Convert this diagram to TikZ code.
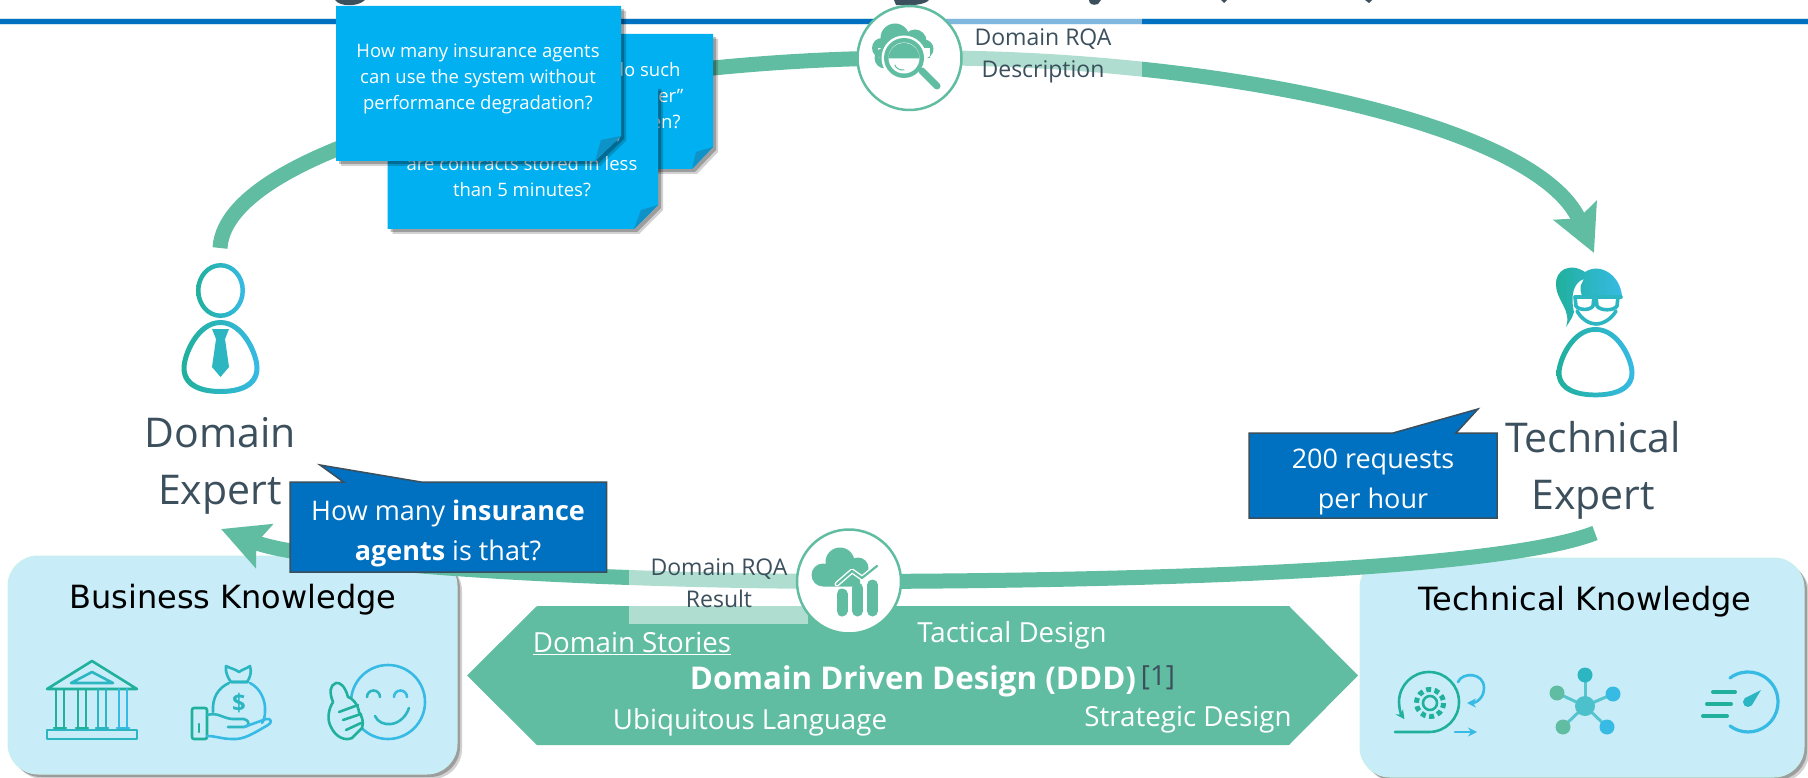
\documentclass[tikz,border=0pt]{standalone}
\usepackage{fontspec}
\setmainfont{Open Sans}
\newfontfamily\knowfont{DejaVu Sans}
\usetikzlibrary{arrows.meta,shadows}
\definecolor{flowgreen}{HTML}{60BDA1}
\definecolor{labelgray}{HTML}{3B4F5C}
\definecolor{ruleblue}{HTML}{0070C0}
\definecolor{ruleedge}{HTML}{CFE6F3}
\definecolor{stickyblue}{HTML}{00B0F0}
\definecolor{foldblue}{HTML}{0F92C8}
\definecolor{boxblue}{HTML}{C8EDF9}
\definecolor{boxedge}{HTML}{C6F0EC}
\definecolor{icona}{HTML}{20B09C}
\definecolor{iconb}{HTML}{2CB6C2}
\definecolor{iconc}{HTML}{37BAE4}
\begin{document}
\begin{tikzpicture}[x=1pt,y=-1pt,
    softshadow/.style={drop shadow={shadow xshift=5pt,shadow yshift=-5pt,fill=black,opacity=.18},
      drop shadow={shadow xshift=3pt,shadow yshift=-3pt,fill=black,opacity=.25}},
    flowline/.style={line width=15pt,flowgreen},
    flowtip/.style={-{Stealth[length=46pt,width=46pt,inset=8pt]}},
    veil/.style={fill=white,fill opacity=.5},
    hubcircle/.style={circle,draw=flowgreen,line width=2.5pt,fill=white,minimum size=104pt,inner sep=0pt},
    expertlabel/.style={font=\fontsize{41}{57}\selectfont,text=labelgray,align=center},
    hublabel/.style={font=\fontsize{23}{32}\selectfont,text=labelgray,align=center},
    stickytext/.style={font=\fontsize{18.5}{26}\selectfont,text=white,align=center},
    speech/.style={fill=ruleblue,draw=labelgray,line width=1.5pt,line join=miter},
    speechtext/.style={font=\fontsize{27}{40}\selectfont,text=white,align=center},
    designtext/.style={font=\fontsize{27.7}{32}\selectfont,text=white},
    knowbox/.style={rectangle,rounded corners=30pt,fill=boxblue,draw=boxedge,line width=1pt,softshadow,inner sep=0pt},
    knowtext/.style={font=\knowfont\fontsize{32}{36}\selectfont,text=black},
    ringshade/.style={left color=icona,right color=iconc,even odd rule},
    iconline/.style={line width=2.6pt,line cap=round,line join=round},
    glassline/.style={iconb,line width=3.6pt,line cap=round,line join=round},
    personbody/.pic={
      \shade[ringshade] (0,0) .. controls (25,0) and (39,34) .. (39,48) .. controls (39,68) and (20,74) .. (0,74)
        .. controls (-20,74) and (-39,68) .. (-39,48) .. controls (-39,34) and (-25,0) .. (0,0) -- cycle
        (0,5) .. controls (-21,5) and (-34,36) .. (-34,48) .. controls (-34,64) and (-17,69) .. (0,69)
        .. controls (17,69) and (34,64) .. (34,48) .. controls (34,36) and (21,5) .. (0,5) -- cycle;
    }]
  \useasboundingbox (0,0) rectangle (1808,778);

  \draw[ruleedge,line width=7.5pt] (0,21.5) -- (1808,21.5);
  \draw[ruleblue,line width=5.5pt] (0,21.5) -- (1808,21.5);
  \fill[labelgray] (335,0) .. controls (340,7) and (358,7) .. (365,0) -- cycle;
  \fill[labelgray] (894,0) -- (896,5) .. controls (910,6) and (925,5) .. (929,0) -- cycle;
  \fill[labelgray] (1089,0) .. controls (1089,4) and (1093,6) .. (1098,4) -- (1101,0) -- cycle;
  \fill[labelgray] (1221,0) -- (1224,3) -- (1227,0) -- cycle;
  \fill[labelgray] (1365,0) -- (1369,3) -- (1372,0) -- cycle;

  % upper flow
  \coordinate (domaintail) at (220,248);
  \coordinate (searchhub) at (909.5,58);
  \coordinate (technicalhead) at (1594,253);
  \draw[flowline] (domaintail) .. controls (226,140) and (600,58) .. (searchhub);
  \draw[flowline,flowtip] (searchhub) .. controls (1200,55) and (1535,120) .. (technicalhead);
  \path[veil] (940,14) rectangle (1142,80);
  \node[hubcircle] (searchcircle) at (searchhub) {};
  \fill[flowgreen] (885,58) circle (10.5) (895,38) circle (14.5) (915,41) circle (11.5) (924,49) circle (9.5) (882,48) circle (10)
    (878,48) rectangle (930,58);
  \fill[white] (904,58) circle (22.5);
  \fill[flowgreen] (904,58) circle (20);
  \fill[white] (904,58) circle (15.5);
  \fill[flowgreen] (888.5,58.5) arc[start angle=180,end angle=360,radius=15.5] -- cycle;
  \draw[flowgreen,line width=1pt,line cap=round] (895,65) .. controls (896,69) and (900,70) .. (904,70);
  \draw[flowgreen,line width=7pt,line cap=round] (922,71) -- (937,86);
  \node[hublabel] (descriptionlabel) at (1043,56) {Domain RQA\\Description};

  % sticky notes
  \fill[stickyblue,softshadow] (450,34) -- (713,34) -- (713,147) -- (692,169) -- (450,169) -- cycle;
  \fill[foldblue] (713,147) -- (692,169) -- (696,152) -- cycle;
  \node[stickytext,anchor=east] (stickyb) at (684,70) {do such};
  \node[stickytext,anchor=east] (stickyc) at (687,96) {er”};
  \node[stickytext,anchor=east] (stickyd) at (684,122) {en?};
  \fill[stickyblue,softshadow] (387.5,86) -- (658,86) -- (658,205) -- (634,229) -- (387.5,229) -- cycle;
  \fill[foldblue] (658,205) -- (634,229) -- (641,210) -- cycle;
  \node[stickytext] (stickye) at (522,164) {are contracts stored in less};
  \node[stickytext] (stickyf) at (522,190) {than 5 minutes?};
  \node[stickytext] (stickyg) at (619,140) {,};
  \fill[stickyblue,softshadow] (336,6) -- (621,6) -- (621,136) -- (595,161) -- (336,161) -- cycle;
  \fill[foldblue] (621,136) -- (595,161) -- (601,140) -- cycle;
  \node[stickytext] (stickya) at (478,79) {How many insurance agents\\can use the system without\\performance degradation?};

  % domain expert
  \shade[ringshade] (220.5,290.5) ellipse [x radius=24.5,y radius=27.5] (220.5,290.5) ellipse [x radius=20,y radius=23];
  \pic at (220.5,320) {personbody};
  \fill[iconb] (212,329) -- (229,329) -- (225,339) -- (229,367) -- (220.5,377) -- (212,367) -- (216,339) -- cycle;
  \node[expertlabel] (domainlabel) at (220,466) {Domain\\Expert};

  % technical expert
  \shade[left color=icona,right color=iconc] (1566,327) .. controls (1572,310) and (1556,300) .. (1556,285)
    .. controls (1555,270) and (1570,262) .. (1585,272) .. controls (1600,262) and (1620,275) .. (1622,296)
    -- (1582,296) .. controls (1578,285) and (1583,282) .. (1584,279) .. controls (1574,282) and (1570,295) .. (1574,312) .. controls (1572,318) .. (1566,327) -- cycle;
  \draw[glassline] (1575,297) -- (1621,297);
  \draw[glassline] (1575,297) -- (1576,306) .. controls (1578,310) and (1590,311) .. (1593,306) -- (1594,297);
  \draw[glassline] (1596,297) -- (1597,306) .. controls (1600,311) and (1614,311) .. (1617,306) -- (1618,297);
  \draw[glassline] (1577,311) .. controls (1582,320) and (1590,324) .. (1596,324) .. controls (1604,324) and (1612,318) .. (1616,311);
  \pic[yscale=.95] at (1595.5,327) {personbody};
  \node[expertlabel] (technicallabel) at (1593,470) {Technical\\Expert};

  % knowledge boxes
  \node[knowbox,minimum width=449pt,minimum height=218pt] (businessbox) at (232.5,665) {};
  \node[knowbox,minimum width=444pt,minimum height=219pt] (technicalbox) at (1582,667.5) {};
  \node[knowtext] (businesslabel) at (233,600) {Business Knowledge};
  \node[knowtext] (technicallabelb) at (1585,602) {Technical Knowledge};

  % bank
  \draw[icona,iconline] (60,689) -- (47,689) -- (92,661) -- (137,689) -- (60,689);
  \draw[iconb,iconline] (92,672) -- (71,683) -- (113,683) -- cycle;
  \foreach \colx/\colc in {60/icona,82/icona,102/iconb,123/iconc}
    \draw[\colc,iconline] (\colx-4,689) -- (\colx-4,728) (\colx+4,689) -- (\colx+4,728) (\colx-6,728) -- (\colx+6,728);
  \draw[iconb,iconline] (47,730) rectangle (137,739);
  % money bag
  \draw[iconb,iconline] (226,666) .. controls (232,669) and (235,669) .. (239,672) .. controls (243,669) and (246,669) .. (250,666)
    .. controls (252,672) and (250,678) .. (247,682) -- (231,682) .. controls (228,678) and (225,672) .. (226,666) -- cycle;
  \draw[iconb,iconline] (231,682) -- (248,682) (229,683) .. controls (218,688) and (212,698) .. (213,712);
  \draw[iconc,iconline] (250,683) .. controls (260,688) and (266,700) .. (265,712) .. controls (265,716) and (264,720) .. (262,723);
  \node[font=\bfseries\fontsize{24}{24}\selectfont,text=iconb,inner sep=0pt] (bagdollar) at (239,703) {\$};
  \draw[icona,iconline,rounded corners=2pt] (192,708) rectangle (207,739);
  \draw[icona,iconline] (199,724) -- (199,732);
  \draw[iconb,iconline] (207,715) .. controls (218,712) and (222,718) .. (232,719) -- (244,719) .. controls (250,720) and (250,727) .. (244,727) -- (228,727);
  \draw[iconc,iconline] (244,727) -- (266,719) .. controls (272,718) and (272,723) .. (268,725) .. controls (254,733) and (244,740) .. (232,739) .. controls (222,739) and (216,736) .. (207,736);
  % smile
  \draw[iconc,iconline] (388,702) circle (37);
  \draw[iconb,iconline] (367,697) arc[start angle=180,end angle=360,radius=6.5];
  \draw[iconc,iconline] (394,697) arc[start angle=180,end angle=360,radius=6.5];
  \draw[iconb,iconline] (375,716) .. controls (380,728) and (402,728) .. (409,708);
  \draw[icona,iconline,fill=boxblue] (348,697) .. controls (345,686) and (340,682) .. (336,683) .. controls (330,685) and (329,692) .. (333,702)
    .. controls (328,710) and (327,720) .. (331,727) .. controls (336,738) and (346,741) .. (352,738) -- (362,728) .. controls (364,722) and (362,716) .. (359,712)
    .. controls (358,704) and (352,698) .. (348,697) -- cycle;
  \draw[icona,iconline] (339,712) -- (358,705) (343,720) -- (361,714) (346,730) -- (361,723);

  % scrum loop
  \draw[icona,iconline,-{Stealth[length=9pt,width=9pt]}] (1395,732) -- (1429,732) arc[start angle=90,end angle=-215,radius=30];
  \draw[icona,iconline] (1430,703) circle (7);
  \draw[icona,iconline,dash pattern=on 5pt off 3.5pt,line cap=butt,line width=5pt] (1430,703) circle (13.5);
  \draw[iconc,iconline,-{Stealth[length=9pt,width=9pt]}] (1458,682) .. controls (1462,672) and (1484,672) .. (1484,688) .. controls (1484,698) and (1476,703) .. (1467,703);
  \draw[iconc,iconline,-{Stealth[length=9pt,width=9pt]}] (1455,732) -- (1477,732);
  % graph
  \coordinate (hubdot) at (1585,706);
  \foreach \dotname/\dotpos/\dotcol in {dotn/{1585,675}/iconb,dotw/{1557,693}/flowgreen,dote/{1613,694}/iconc,dotsw/{1563,727}/flowgreen,dotse/{1607,727}/iconc}{
    \coordinate (\dotname) at (\dotpos);
    \draw[iconb!80!white,line width=3pt] (hubdot) -- (\dotname);
    \fill[\dotcol] (\dotname) circle (7.5);
  }
  \fill[iconb!85!white] (hubdot) circle (10);
  % speed
  \draw[iconc,iconline,line width=3.2pt] (1730,678) arc[start angle=-127,end angle=127,radius=30];
  \fill[iconb] (1748,702) circle (5);
  \fill[iconb] (1745,698) -- (1761,690) -- (1752,705) -- cycle;
  \draw[icona,line width=4pt,line cap=round] (1713,692) -- (1735,692) (1707,704) -- (1731,704) (1703,716) -- (1727,716);

  % design arrow
  \fill[flowgreen] (467,675.5) -- (537,606) -- (1289,606) -- (1358,675.5) -- (1289,745) -- (537,745) -- cycle;
  \node[designtext] (storieslabel) at (632,643) {\underline{Domain Stories}};
  \node[designtext] (tacticallabel) at (1012,635) {Tactical Design};
  \node[designtext,font=\bfseries\fontsize{31.3}{36}\selectfont] (dddlabel) at (913,681) {Domain Driven Design (DDD)};
  \node[designtext,text=labelgray] (citelabel) at (1158,678) {[1]};
  \node[designtext] (ubiquitouslabel) at (750,722) {Ubiquitous Language};
  \node[designtext] (strategiclabel) at (1188,720) {Strategic Design};

  % lower flow
  \coordinate (technicaltail) at (1595,533);
  \coordinate (resulthub) at (849,581.5);
  \coordinate (domainhead) at (221,529);
  \draw[flowline] (technicaltail) .. controls (1500,570) and (1150,581) .. (resulthub);
  \draw[flowline,flowtip] (resulthub) .. controls (560,581) and (305,562) .. (domainhead);
  \path[veil] (629,566) rectangle (808,624);
  \node[hubcircle] (resultcircle) at (resulthub) {};
  \fill[flowgreen] (823,575) circle (11.5) (840,562) circle (14.5) (858,568) circle (10.5) (823,575) ++(0,11.5) rectangle (860,570);
  \foreach \barx/\bartop in {842/589,857.5/583,872.5/580}
    \draw[flowgreen,line width=11pt,line join=round,line cap=round,preaction={draw=white,line width=13pt}] (\barx,\bartop+5) -- (\barx,611);
  \draw[white,line width=5pt,line cap=round,line join=round] (837,584) -- (852,571) -- (862,578) -- (877,566);
  \draw[flowgreen,line width=2.2pt,line cap=round,line join=round] (837,584) -- (852,571) -- (862,578) -- (877,566);
  \node[hublabel] (resultlabel) at (719,583) {Domain RQA\\Result};

  % callouts
  \draw[speech] (290,482) -- (343.5,482) -- (320,465) -- (421,482) -- (606.5,482) -- (606.5,572) -- (290,572) -- cycle;
  \node[speechtext] (domainspeech) at (448,533) {How many \textbf{insurance}\\\textbf{agents} is that?};
  \draw[speech] (1249,433) -- (1393,433) -- (1478,409) -- (1456,433) -- (1497,433) -- (1497,518) -- (1249,518) -- cycle;
  \node[speechtext] (technicalspeech) at (1373,482) {200 requests\\per hour};
\end{tikzpicture}
\end{document}
